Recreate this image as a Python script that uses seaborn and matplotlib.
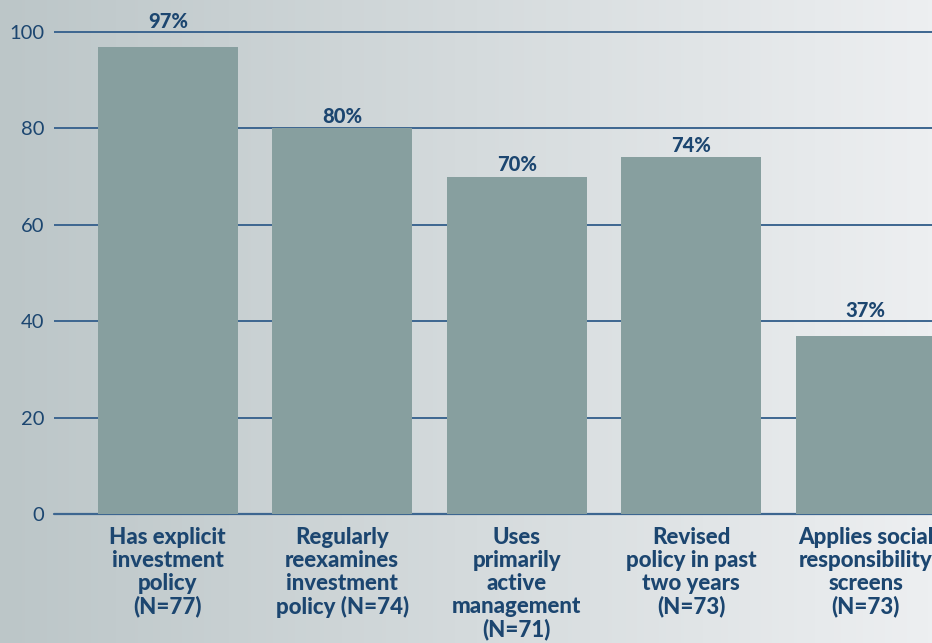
import matplotlib.pyplot as plt
import seaborn as sns
import numpy as np
import pandas as pd

# Survey results: share of respondents (%)
categories = [
    "Has explicit\ninvestment\npolicy\n(N=77)",
    "Regularly\nreexamines\ninvestment\npolicy (N=74)",
    "Uses\nprimarily\nactive\nmanagement\n(N=71)",
    "Revised\npolicy in past\ntwo years\n(N=73)",
    "Applies social\nresponsibility\nscreens\n(N=73)",
]
values = [97, 80, 70, 74, 37]
yticks = [0, 20, 40, 60, 80, 100]

navy = "#1c4670"
grid_col = "#3d6690"
bar_col = "#879f9f"

sns.set_theme(style="white")
plt.rcParams["font.family"] = ["Lato", "DejaVu Sans"]

fig = plt.figure(figsize=(9.32, 6.43), dpi=100)

# gradient background
bg = fig.add_axes([0, 0, 1, 1], zorder=-10)
left_rgb = np.array([188, 198, 200]) / 255
right_rgb = np.array([237, 239, 241]) / 255
t = np.linspace(0, 1, 256)
grad = left_rgb[None, :] * (1 - t[:, None]) + right_rgb[None, :] * t[:, None]
bg.imshow(grad[None, :, :], aspect="auto", extent=[0, 1, 0, 1])
bg.set_axis_off()

ax = fig.add_axes([54 / 932, 1 - 514 / 643, 1 - 54 / 932, (514 - 8) / 643])
ax.set_facecolor("none")

df = pd.DataFrame({"category": categories, "value": values})
sns.barplot(data=df, x="category", y="value", color=bar_col, saturation=1,
            width=0.8, edgecolor="none", linewidth=0, ax=ax, zorder=3)

ax.set_ylim(0, 105)
ax.set_xlim(-0.652, 4.38)
ax.set_yticks(yticks)
ax.set_yticklabels([str(v) for v in yticks])
ax.yaxis.grid(True, color=grid_col, linewidth=1.4)
ax.set_axisbelow(True)
ax.axhline(0, color=grid_col, linewidth=1.6, clip_on=False, zorder=2)
for s in ax.spines.values():
    s.set_visible(False)

ax.tick_params(axis="y", length=0, pad=7, labelsize=14.5, labelcolor=navy)
ax.tick_params(axis="x", length=0, pad=9, labelsize=16, labelcolor=navy)
for lbl in ax.get_xticklabels():
    lbl.set_fontweight(900)
    lbl.set_linespacing(1.12)
ax.set_xlabel("")
ax.set_ylabel("")

# value labels; lift above a gridline if they would sit on it
for i, v in enumerate(values):
    nxt = (v // 20 + 1) * 20
    y = nxt + 2.3 if nxt - v < 4 else v + 2.5
    ax.text(i, y, f"{v}%", ha="center", va="center", fontsize=14.5,
            fontweight=900, color=navy, zorder=5)

fig.savefig("out.png", dpi=100)
